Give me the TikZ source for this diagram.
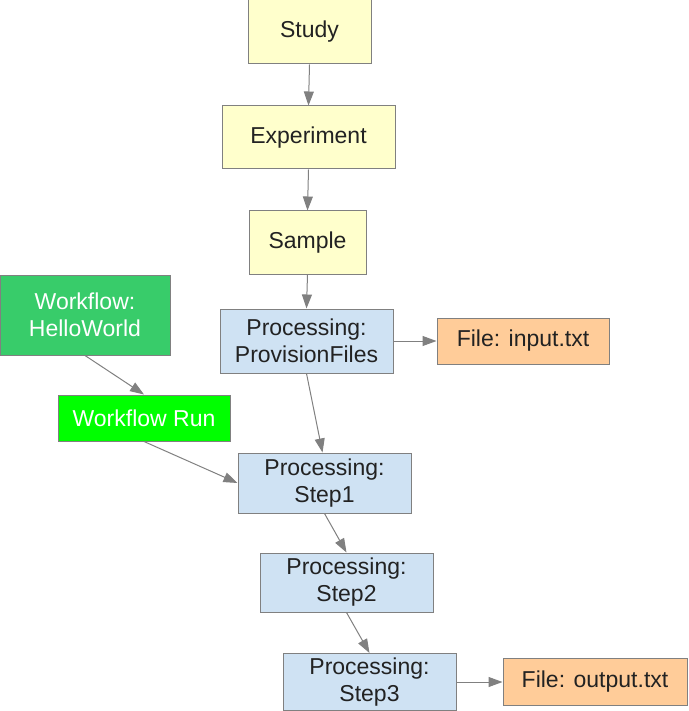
\documentclass[tikz,border=0pt]{standalone}
\usepackage{fontspec}
\setmainfont{Liberation Sans}
\usetikzlibrary{arrows.meta}
\definecolor{ylw}{HTML}{FFFFCC}
\definecolor{blu}{HTML}{CFE2F3}
\definecolor{org}{HTML}{FFCC99}
\definecolor{wfg}{HTML}{38CC6A}
\definecolor{wrg}{HTML}{00FF00}
\definecolor{bd}{HTML}{808080}
\definecolor{txt}{HTML}{222222}
\tikzset{
  box/.style={draw=bd, line width=1pt, inner sep=0pt, align=center, text=txt,
    font=\fontsize{23}{27}\selectfont},
  conn/.style={draw=bd, line width=1pt, -{Triangle[length=14pt,width=10pt]}},
}
\begin{document}
\begin{tikzpicture}[x=1pt,y=-1pt]
\useasboundingbox (0,0) rectangle (688,711);
\node[box, fill=ylw, minimum width=123pt, minimum height=64pt] (study) at (309.5,32) {Study};
\node[box, fill=ylw, minimum width=173pt, minimum height=63pt] (exp) at (308.5,137.5) {Experiment};
\node[box, fill=ylw, minimum width=117pt, minimum height=63pt] (sample) at (307.5,242.5) {Sample};
\node[box, fill=wfg, text=white, minimum width=170pt, minimum height=80pt] (wf) at (85,315) {Workflow:\\HelloWorld};
\node[box, fill=blu, minimum width=173pt, minimum height=64pt] (pf) at (306.5,341) {Processing:\\ProvisionFiles};
\node[box, fill=org, minimum width=172pt, minimum height=46pt] (fin) at (523,341) {File: input.txt};
\node[box, fill=wrg, text=white, minimum width=172pt, minimum height=46pt] (wr) at (144,418) {Workflow Run};
\node[box, fill=blu, minimum width=173pt, minimum height=60pt] (s1) at (324.5,483) {Processing:\\Step1};
\node[box, fill=blu, minimum width=173pt, minimum height=59pt] (s2) at (346.5,582.5) {Processing:\\Step2};
\node[box, fill=blu, minimum width=173pt, minimum height=57pt] (s3) at (369.5,682) {Processing:\\Step3};
\node[box, fill=org, minimum width=184pt, minimum height=47pt] (fout) at (595,682) {File: output.txt};
\draw[conn] (study.south) -- (exp.north);
\draw[conn] (exp.south) -- (sample.north);
\draw[conn] (sample.south) -- (pf.north);
\draw[conn] (pf.east) -- (fin.west);
\draw[conn] (wf.south) -- (wr.north);
\draw[conn] (pf.south) -- ([xshift=-2pt]s1.north);
\draw[conn] (wr.south) -- (s1.west);
\draw[conn] (s1.south) -- (s2.north);
\draw[conn] (s2.south) -- (s3.north);
\draw[conn] (s3.east) -- (fout.west);
\end{tikzpicture}
\end{document}
